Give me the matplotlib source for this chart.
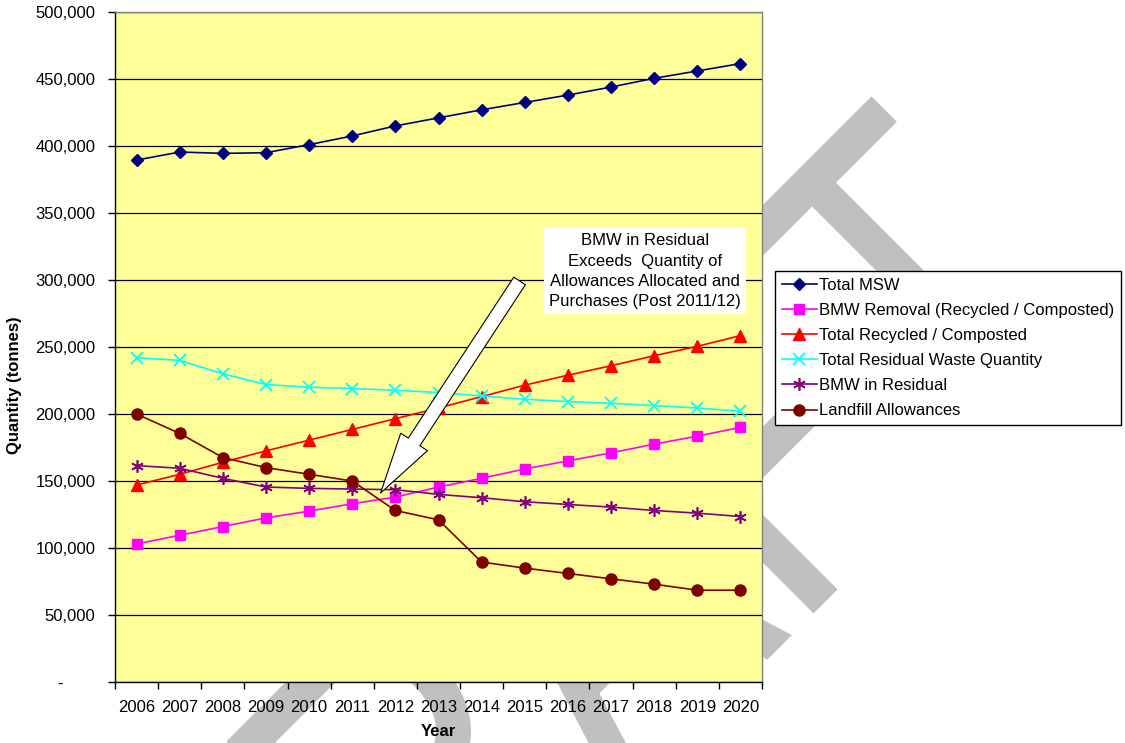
import numpy as np
import matplotlib
matplotlib.use('Agg')
import matplotlib.pyplot as plt
from matplotlib.ticker import FuncFormatter
from matplotlib.textpath import TextPath
from matplotlib.font_manager import FontProperties
from matplotlib.patches import PathPatch
from matplotlib.transforms import Affine2D

# ---------------- data ----------------
years = [str(y) for y in range(2006, 2021)]
total_msw = [389500, 395500, 394500, 395000, 401000, 407500, 415000, 421000,
             427000, 432500, 438000, 444000, 450500, 456000, 461500]
bmw_removal = [103000, 109500, 116000, 122500, 127500, 133000, 138000, 145500,
               152000, 159000, 165000, 171000, 177500, 183500, 190000]
total_recycled = [147000, 155000, 164000, 172500, 180500, 188500, 196500, 204500,
                  213000, 221500, 229000, 236000, 243500, 250500, 258500]
total_residual = [242000, 240000, 230000, 222000, 220000, 219000, 217750, 216000,
                  213500, 211000, 209250, 208000, 206250, 204500, 202000]
bmw_residual = [161500, 159500, 152000, 145500, 144500, 144000, 143500, 140000,
                137500, 134500, 132500, 130500, 128000, 126000, 123500]
landfill = [200000, 185500, 167500, 160000, 155000, 150000, 128000, 121000,
            89500, 85000, 81000, 77000, 73000, 68500, 68500]

series_names = ["Total MSW", "BMW Removal (Recycled / Composted)",
                "Total Recycled / Composted", "Total Residual Waste Quantity",
                "BMW in Residual", "Landfill Allowances"]
annotation_text = ("BMW in Residual\nExceeds  Quantity of\n"
                   "Allowances Allocated and\nPurchases (Post 2011/12)")
watermark_text = "DRAFT"

# ---------------- figure ----------------
plt.rcParams['font.family'] = ['Liberation Sans', 'DejaVu Sans']
W, H = 1125, 743
fig = plt.figure(figsize=(W / 100, H / 100), dpi=100)
fig.patch.set_facecolor('white')

# DRAFT watermark (diagonal, behind the chart), placed in pixel space
fp = FontProperties(family='Liberation Sans')
tp = TextPath((0, 0), watermark_text, size=1, prop=fp)
wm_tr = Affine2D(np.array([[257.4, -333.7, 249.0],
                           [257.4, 333.7, -435.0],
                           [0.0, 0.0, 1.0]]))
wm = PathPatch(tp, transform=wm_tr, facecolor='#c0c0c0', edgecolor='none', zorder=-10)
fig.add_artist(wm)

ax = fig.add_axes([115 / W, 1 - 682 / H, 647 / W, 670 / H])
ax.set_facecolor('#FFFF99')

x = np.arange(len(years))
styles = [
    dict(color='#000080', marker='D', ms=6.5),
    dict(color='#FF00FF', marker='s', ms=7),
    dict(color='#FF0000', marker='^', ms=8),
    dict(color='#00FFFF', marker='x', ms=8, mew=1.3),
    dict(color='#800080', marker=(6, 2, 0), ms=9, mew=1.2),
    dict(color='#800000', marker='o', ms=8),
]
data = [total_msw, bmw_removal, total_recycled, total_residual, bmw_residual, landfill]
handles = []
for vals, name, st in zip(data, series_names, styles):
    h, = ax.plot(x, vals, lw=1.2, label=name, zorder=3, **st)
    handles.append(h)

ax.set_xlim(-0.5, len(years) - 0.5)
ax.set_ylim(0, 500000)
ax.set_yticks(np.arange(0, 500001, 50000))
ax.yaxis.set_major_formatter(FuncFormatter(
    lambda v, p: '-       ' if v == 0 else f'{int(v):,}'))
ax.set_xticks(x)
ax.set_xticklabels(years)
ax.set_xticks(np.arange(-0.5, len(years), 1), minor=True)
ax.tick_params(axis='x', which='major', length=0, pad=13, labelsize=12)
ax.tick_params(axis='x', which='minor', length=5, direction='out', width=1)
ax.tick_params(axis='y', which='major', length=5, direction='out', width=1,
               pad=9, labelsize=12)

ax.yaxis.grid(True, color='black', lw=0.9)
ax.set_axisbelow(True)
for s in ['left', 'bottom']:
    ax.spines[s].set_color('black')
    ax.spines[s].set_linewidth(1.0)
for s in ['top', 'right']:
    ax.spines[s].set_color('#808080')
    ax.spines[s].set_linewidth(1.0)

ax.set_ylabel('Quantity (tonnes)', fontsize=12, fontweight='bold')
ax.yaxis.set_label_coords(-0.143, 0.443)
ax.set_xlabel('Year', fontsize=12, fontweight='bold', va='top')
ax.xaxis.set_label_coords(0.5, -0.063)

# annotation box and block arrow
ax.text(11.78, 306500, annotation_text, ha='center', va='center', fontsize=12,
        linespacing=1.45, zorder=6,
        bbox=dict(boxstyle='square,pad=0.3', fc='white', ec='none'))
ax.annotate('', xy=(5.657, 141000), xytext=(8.88, 299300),
            arrowprops=dict(arrowstyle='simple,head_length=2.2,head_width=1.15,tail_width=0.5',
                            mutation_scale=20, fc='white', ec='black', lw=0.8,
                            shrinkA=0, shrinkB=0),
            zorder=7)

leg = fig.legend(handles=handles, labels=series_names, loc='upper left',
                 bbox_to_anchor=(775 / W, 1 - 271 / H), bbox_transform=fig.transFigure,
                 frameon=True, fancybox=False, edgecolor='black', framealpha=1,
                 borderpad=0.4, handlelength=2.1, handletextpad=0.15,
                 borderaxespad=0, labelspacing=0.61, fontsize=12)
leg.get_frame().set_linewidth(1.0)

fig.savefig('out.png', dpi=100)
